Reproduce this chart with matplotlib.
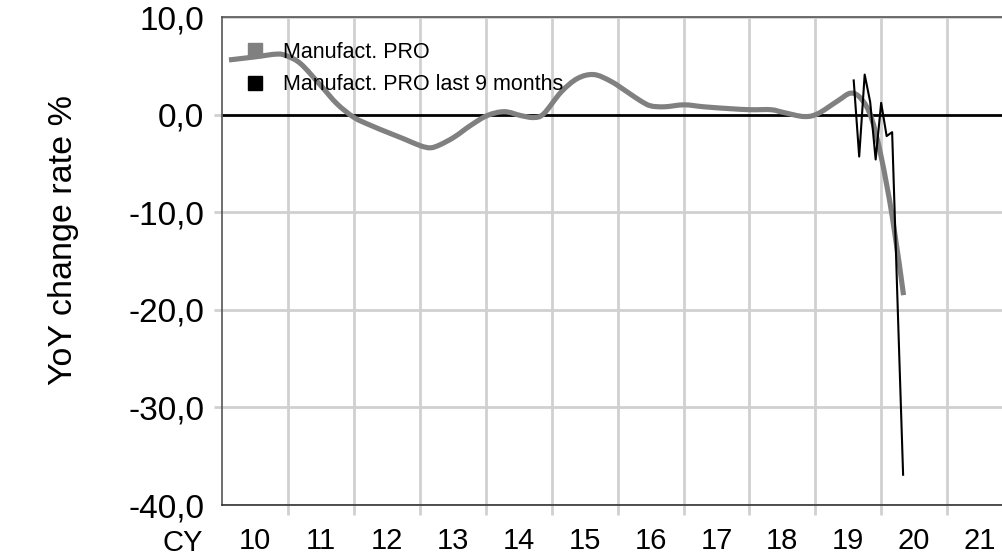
import matplotlib
matplotlib.use("Agg")
import matplotlib.pyplot as plt
from matplotlib.lines import Line2D
from matplotlib.path import Path
from matplotlib.patches import PathPatch

# ---- data ----
years = list(range(2010, 2022))
year_labels = ["10", "11", "12", "13", "14", "15", "16", "17", "18", "19", "20", "21"]
y_ticks = [10, 0, -10, -20, -30, -40]
y_tick_labels = ["10,0", "0,0", "-10,0", "-20,0", "-30,0", "-40,0"]

series_names = ["Manufact. PRO", "Manufact. PRO last 9 months"]

pro_t = [2010.10, 2010.48, 2010.83, 2010.98, 2011.19, 2011.49, 2011.74, 2012.00,
         2012.25, 2012.50, 2012.76, 2013.01, 2013.16, 2013.30, 2013.52, 2013.77,
         2014.02, 2014.28, 2014.53, 2014.73, 2014.88, 2015.14, 2015.39, 2015.64,
         2015.90, 2016.15, 2016.35, 2016.50, 2016.71, 2017.01, 2017.31, 2017.72,
         2018.02, 2018.33, 2018.53, 2018.83, 2019.04, 2019.34, 2019.54, 2019.70,
         2019.85, 2020.00, 2020.17, 2020.34]
pro_v = [5.6, 5.9, 6.2, 6.0, 5.2, 3.0, 1.1, -0.3,
         -1.1, -1.8, -2.5, -3.2, -3.4, -3.1, -2.3, -1.1,
         -0.1, 0.3, -0.1, -0.3, 0.1, 2.3, 3.7, 4.1,
         3.4, 2.3, 1.4, 0.9, 0.8, 1.0, 0.8, 0.6,
         0.5, 0.5, 0.2, -0.2, 0.1, 1.4, 2.2, 1.6,
         -0.3, -4.3, -10.5, -18.5]

last9_t = [2019 + 7/12, 2019 + 8/12, 2019 + 9/12, 2019 + 10/12, 2019 + 11/12,
           2020.0, 2020 + 1/12, 2020 + 2/12, 2020 + 3/12, 2020 + 4/12]
last9_v = [3.5, -4.3, 4.1, 1.3, -4.6, 1.2, -2.2, -1.8, -19.5, -36.9]


def smooth_path(xs, ys):
    """Smoothed-line rendering (Catmull-Rom as cubic Bezier) through the points."""
    pts = list(zip(xs, ys))
    verts = [pts[0]]
    codes = [Path.MOVETO]
    n = len(pts)
    for i in range(n - 1):
        p0 = pts[i - 1] if i > 0 else pts[i]
        p1 = pts[i]
        p2 = pts[i + 1]
        p3 = pts[i + 2] if i + 2 < n else pts[i + 1]
        c1 = (p1[0] + (p2[0] - p0[0]) / 6, p1[1] + (p2[1] - p0[1]) / 6)
        c2 = (p2[0] - (p3[0] - p1[0]) / 6, p2[1] - (p3[1] - p1[1]) / 6)
        verts += [c1, c2, p2]
        codes += [Path.CURVE4] * 3
    return Path(verts, codes)


# ---- style ----
plt.rcParams['font.family'] = ['Liberation Sans', 'DejaVu Sans']
GRID = '#d0d0d0'

fig = plt.figure(figsize=(10.02, 5.56), dpi=100)
W, H = 1002, 556
ax = fig.add_axes([222.4 / W, 51 / H, 790.5 / W, 488 / H])
ax.set_xlim(2010, 2022)
ax.set_ylim(-40, 10)

ax.add_patch(PathPatch(smooth_path(pro_t, pro_v), facecolor='none',
                       edgecolor='#808080', lw=3.7, joinstyle='round',
                       capstyle='butt', zorder=3))
ax.plot(last9_t, last9_v, color='black', lw=1.5, zorder=4)

# x axis: boundaries as gridlines, labels at centers
ax.set_xticks(years[1:])
ax.set_xticklabels([])
ax.set_xticks([y + 0.5 for y in years], minor=True)
ax.set_xticklabels(year_labels, minor=True)
ax.tick_params(axis='x', which='major', length=7, width=2, color=GRID)
ax.tick_params(axis='x', which='minor', length=0, pad=16, labelsize=21)
ax.grid(axis='x', which='major', color=GRID, lw=2)

# y axis
ax.set_yticks(y_ticks)
ax.set_yticklabels(y_tick_labels)
ax.tick_params(axis='y', length=6, width=2, color=GRID, pad=7, labelsize=24)
ax.grid(axis='y', color=GRID, lw=2)
for val, tk in zip(y_ticks, ax.yaxis.get_major_ticks()):
    if val == 0:
        tk.tick1line.set_color('black')
        tk.gridline.set_color('black')
    elif val in (10, -40):
        tk.tick1line.set_visible(False)
ax.set_axisbelow(True)

for side in ('left', 'top', 'bottom'):
    ax.spines[side].set_color('#555555')
    ax.spines[side].set_linewidth(1.2)
ax.spines['bottom'].set_color('#333333')
ax.spines['right'].set_visible(False)

fig.text(64 / W, 1 - 240 / H, 'YoY change rate %', rotation=90,
         ha='center', va='center', fontsize=24.5)
fig.text(203 / W, 1 - 543 / H, 'CY', ha='right', va='center', fontsize=21)

handles = [Line2D([], [], marker='s', color='#808080', ms=10, ls='none'),
           Line2D([], [], marker='s', color='black', ms=10, ls='none')]
leg = ax.legend(handles, series_names, loc='upper left',
                bbox_to_anchor=(0.0276, 0.949), frameon=False, fontsize=15.5,
                handlelength=1.0, handletextpad=0.8, borderpad=0,
                borderaxespad=0, labelspacing=0.53)
leg.set_zorder(5)

fig.savefig('out.png', dpi=100)
